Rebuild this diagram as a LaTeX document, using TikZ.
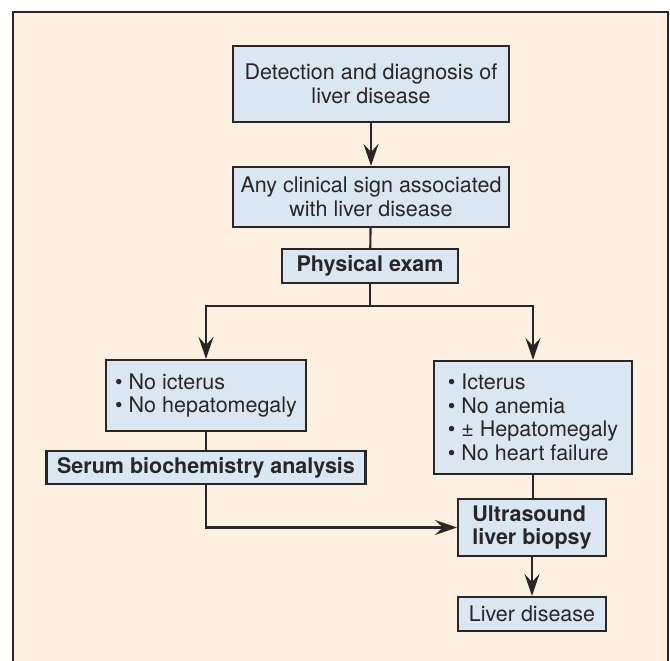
\documentclass[tikz,border=0pt]{standalone}
\usepackage{fontspec}
\setmainfont{TeX Gyre Heros}
\usetikzlibrary{arrows.meta}
\definecolor{paper}{HTML}{FDF0E0}
\definecolor{boxblue}{HTML}{DBE6F3}
\definecolor{ink}{HTML}{2A2627}
\tikzstyle{box} = [draw=ink, fill=boxblue, line width=2.1pt, inner sep=0pt, align=center, text=ink]
\tikzstyle{listbox} = [box, align=left]
\tikzstyle{link} = [draw=ink, line width=2.1pt]
\tikzstyle{flow} = [link, -{Stealth[length=22pt,width=15pt,inset=8pt]}]

\begin{document}
\begin{tikzpicture}[x=1pt, y=-1pt, font=\fontsize{21.5}{23.5}\selectfont]
    \clip (0,0) rectangle (670,661);
    \draw [draw=ink, fill=paper, line width=2.6pt] (13,12) rectangle (668,690);

    \node (detect) [box, minimum width=276pt, minimum height=76pt] at (371,84) {Detection and diagnosis of\\liver disease};
    \node (sign) [box, minimum width=276pt, minimum height=60pt] at (371,197) {Any clinical sign associated\\with liver disease};
    \node (exam) [box, minimum width=176pt, minimum height=34pt] at (370,266) {\textbf{Physical exam}};

    \node (noict) [listbox, minimum width=200pt, minimum height=71pt] at (206,395.5) {\fontsize{21.5}{24}\selectfont\textbullet\ No icterus\\\textbullet\ No hepatomegaly};
    \node (ict) [listbox, minimum width=198pt, minimum height=113pt] at (533,417.5) {\fontsize{21.5}{24}\selectfont\textbullet\ Icterus\\\textbullet\ No anemia\\\textbullet\ ± Hepatomegaly\\\textbullet\ No heart failure};

    \node (serum) [box, minimum width=319pt, minimum height=33pt] at (206,467.5) {\textbf{Serum biochemistry analysis}};
    \node (ultra) [listbox, minimum width=148pt, minimum height=57pt] at (532,527.5) {\textbf{Ultrasound}\\\textbf{liver biopsy}};
    \node (liver) [box, minimum width=148pt, minimum height=34pt] at (532,614) {Liver disease};

    \coordinate (fork) at (370,306);

    \draw [flow] (detect) -- (sign);
    \draw [link] (sign) -- (exam);
    \draw [link] (exam) -- (fork);
    \draw [flow] (fork) -| (noict.north);
    \draw [flow] (fork) -| (ict.north);
    \draw [link] (noict) -- (serum);
    \draw [flow] (serum.south) |- (ultra.west);
    \draw [link] (ict.south) -- (ict.south |- ultra.north);
    \draw [flow] (ultra) -- (liver);
  \end{tikzpicture}
\end{document}
